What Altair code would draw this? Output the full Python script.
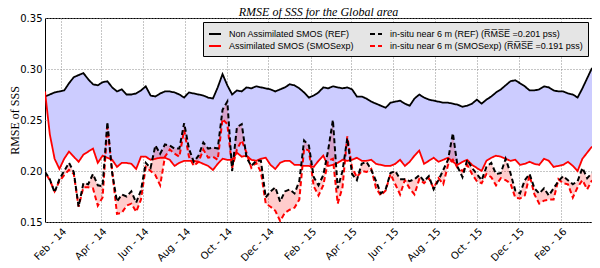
import altair as alt
import pandas as pd

# weekly analysis dates
START = "2014-01-09"
N_WEEKS = 115

smos_ref = [0.273,0.275,0.277,0.278,0.279,0.286,0.292,0.294,0.296,0.290,
            0.285,0.284,0.287,0.288,0.282,0.278,0.280,0.275,0.275,0.276,
            0.279,0.283,0.274,0.273,0.276,0.278,0.278,0.277,0.275,0.272,
            0.277,0.276,0.275,0.274,0.272,0.271,0.282,0.295,0.284,0.275,
            0.279,0.278,0.282,0.281,0.283,0.282,0.281,0.280,0.278,0.280,
            0.282,0.285,0.284,0.281,0.277,0.272,0.274,0.277,0.282,0.281,
            0.283,0.282,0.281,0.282,0.280,0.273,0.273,0.271,0.268,0.266,
            0.264,0.262,0.267,0.268,0.269,0.266,0.264,0.271,0.275,0.272,
            0.270,0.269,0.268,0.267,0.267,0.266,0.265,0.263,0.264,0.266,
            0.270,0.266,0.270,0.273,0.277,0.280,0.284,0.288,0.289,0.286,
            0.283,0.279,0.279,0.280,0.283,0.282,0.279,0.278,0.278,0.276,
            0.275,0.272,0.281,0.291,0.301]

smos_exp = [0.278,0.236,0.212,0.202,0.212,0.219,0.214,0.209,0.216,0.219,
            0.222,0.208,0.215,0.213,0.211,0.204,0.208,0.208,0.207,0.202,
            0.214,0.214,0.211,0.212,0.213,0.213,0.211,0.205,0.208,0.210,
            0.210,0.210,0.209,0.207,0.205,0.201,0.207,0.212,0.211,0.211,
            0.218,0.214,0.215,0.211,0.210,0.212,0.213,0.206,0.202,0.208,
            0.210,0.210,0.206,0.206,0.205,0.205,0.204,0.210,0.215,0.205,
            0.206,0.208,0.211,0.210,0.211,0.213,0.210,0.210,0.211,0.207,
            0.206,0.205,0.205,0.207,0.211,0.205,0.209,0.215,0.220,0.207,
            0.210,0.213,0.209,0.211,0.213,0.209,0.206,0.209,0.211,0.206,
            0.203,0.200,0.210,0.213,0.215,0.214,0.212,0.210,0.211,0.206,
            0.207,0.209,0.207,0.206,0.212,0.210,0.204,0.205,0.206,0.209,
            0.205,0.200,0.212,0.218,0.224]

insitu_ref = [0.199,0.192,0.179,0.192,0.200,0.208,0.199,0.165,0.188,0.187,
              0.197,0.186,0.185,0.248,0.198,0.170,0.177,0.175,0.180,0.169,
              0.181,0.208,0.203,0.225,0.217,0.226,0.225,0.222,0.222,0.247,
              0.222,0.209,0.215,0.228,0.222,0.223,0.222,0.260,0.268,0.200,
              0.243,0.246,0.213,0.205,0.210,0.210,0.174,0.180,0.184,0.170,
              0.180,0.182,0.178,0.190,0.230,0.225,0.194,0.186,0.196,0.220,
              0.250,0.183,0.200,0.232,0.197,0.191,0.207,0.209,0.201,0.190,
              0.178,0.182,0.198,0.200,0.192,0.192,0.190,0.192,0.196,0.190,
              0.195,0.182,0.191,0.201,0.211,0.237,0.204,0.194,0.211,0.203,
              0.197,0.191,0.204,0.208,0.197,0.198,0.212,0.198,0.181,0.178,
              0.191,0.197,0.183,0.178,0.183,0.176,0.183,0.190,0.195,0.191,
              0.187,0.190,0.203,0.193,0.198]

insitu_exp = [0.199,0.191,0.180,0.190,0.196,0.201,0.197,0.165,0.184,0.184,
              0.183,0.166,0.174,0.243,0.200,0.158,0.159,0.166,0.168,0.160,
              0.172,0.204,0.200,0.196,0.186,0.214,0.221,0.217,0.214,0.240,
              0.214,0.205,0.209,0.221,0.213,0.214,0.211,0.251,0.246,0.203,
              0.221,0.230,0.218,0.203,0.208,0.199,0.168,0.165,0.161,0.151,
              0.159,0.162,0.164,0.172,0.222,0.220,0.185,0.176,0.186,0.210,
              0.212,0.168,0.184,0.234,0.203,0.194,0.200,0.199,0.202,0.183,
              0.176,0.181,0.197,0.187,0.177,0.191,0.183,0.177,0.192,0.188,
              0.193,0.183,0.193,0.187,0.206,0.211,0.203,0.200,0.206,0.197,
              0.190,0.188,0.197,0.194,0.186,0.193,0.191,0.188,0.174,0.173,
              0.176,0.196,0.177,0.168,0.171,0.172,0.172,0.192,0.188,0.187,
              0.174,0.184,0.191,0.182,0.191]

OV = "\u0305"
RMSE_BAR = "R" + OV + "M" + OV + "S" + OV + "E" + OV
series_labels = ["Non Assimilated SMOS (REF)",
                 "Assimilated SMOS (SMOSexp)",
                 "in-situ near 6 m (REF) (" + RMSE_BAR + " =0.201 pss)",
                 "in-situ near 6 m (SMOSexp) (" + RMSE_BAR + " =0.191 pss)"]
series_colors = ["black", "red", "black", "red"]
series_dashes = [[1, 0], [1, 0], [5, 3], [5, 3]]

y_ticks = [0.15, 0.20, 0.25, 0.30, 0.35]
x_tick_months = [(2014, 2), (2014, 4), (2014, 6), (2014, 8), (2014, 10), (2014, 12),
                 (2015, 2), (2015, 4), (2015, 6), (2015, 8), (2015, 10), (2015, 12),
                 (2016, 2)]

dates = pd.date_range(START, periods=N_WEEKS, freq="7D").strftime("%Y-%m-%d")
wide = pd.DataFrame({"date": dates, "ref": smos_ref, "exp": smos_exp,
                     "iref": insitu_ref, "iexp": insitu_exp})
cols = ["ref", "exp", "iref", "iexp"]
long = pd.concat([pd.DataFrame({"date": dates, "value": wide[c], "series": lab})
                  for c, lab in zip(cols, series_labels)], ignore_index=True)

x_enc = alt.X("date:T",
              scale=alt.Scale(type="utc",
                              domain=[alt.DateTime(year=2014, month=1, date=9, utc=True),
                                      alt.DateTime(year=2016, month=3, date=17, utc=True)]),
              axis=alt.Axis(values=[alt.DateTime(year=y, month=m, date=1, utc=True)
                                    for y, m in x_tick_months],
                            format="%b - %y", labelAngle=315, labelAlign="right",
                            labelBaseline="top", labelPadding=4, title=None))
y_scale = alt.Scale(domain=[0.15, 0.35], zero=False, nice=False)
y_axis = alt.Axis(values=y_ticks, format=".2f", title="RMSE of SSS", labelPadding=3,
                  titleX=-31, titleY=102, titleAngle=270, titleAlign="center",
                  titleBaseline="middle")

legend = alt.Legend(title=None, orient="top-right", offset=4, columns=2,
                    columnPadding=12, rowPadding=0, padding=5,
                    fillColor="#e5e5e5", strokeColor="black",
                    symbolType="stroke", symbolSize=144, symbolStrokeWidth=2,
                    labelFont="Liberation Sans", labelFontSize=9, labelLimit=400,
                    labelOffset=7, labelColor="black")
color_enc = alt.Color("series:N", scale=alt.Scale(domain=series_labels, range=series_colors),
                      legend=legend)
dash_enc = alt.StrokeDash("series:N", scale=alt.Scale(domain=series_labels, range=series_dashes),
                          legend=legend)

blue = alt.Chart(wide).mark_area(color="#ccccff", opacity=1, clip=True).encode(
    x=x_enc, y=alt.Y("ref:Q", scale=y_scale, axis=y_axis), y2="exp:Q")
pink = alt.Chart(wide).mark_area(color="red", opacity=0.2, clip=True).encode(
    x=x_enc, y=alt.Y("iref:Q", scale=y_scale, axis=y_axis), y2="iexp:Q")

def line_layer(label, width, offset=0):
    return alt.Chart(long).transform_filter(
        alt.FieldEqualPredicate(field="series", equal=label)
    ).mark_line(strokeWidth=width, clip=True, strokeDashOffset=offset).encode(
        x=x_enc, y=alt.Y("value:Q", scale=y_scale, axis=y_axis),
        color=color_enc, strokeDash=dash_enc)

lines = [line_layer(series_labels[0], 1.8),
         line_layer(series_labels[1], 1.8),
         line_layer(series_labels[3], 2, 4),
         line_layer(series_labels[2], 2)]

chart = alt.layer(blue, pink, *lines).properties(
    width=547, height=204,
    title=alt.TitleParams("RMSE of SSS for the Global area", font="Liberation Serif",
                          fontStyle="italic", fontSize=12, fontWeight="normal",
                          anchor="middle", frame="group", offset=3, dy=9, color="black"),
    autosize=alt.AutoSizeParams(type="none"),
    padding={"left": 37, "top": 10, "right": 0, "bottom": 44},
).configure_view(stroke="black", strokeWidth=1).configure_axis(
    labelFont="DejaVu Sans", labelFontSize=10, labelColor="black",
    titleFont="Liberation Serif", titleFontSize=12, titleFontWeight="normal", titleColor="black",
    gridColor="#8c8c8c", gridDash=[1, 2], gridWidth=1, domain=False,
    ticks=False, tickSize=0, zindex=1)

chart.save("out.html", embed_options={"renderer": "svg", "actions": False})
